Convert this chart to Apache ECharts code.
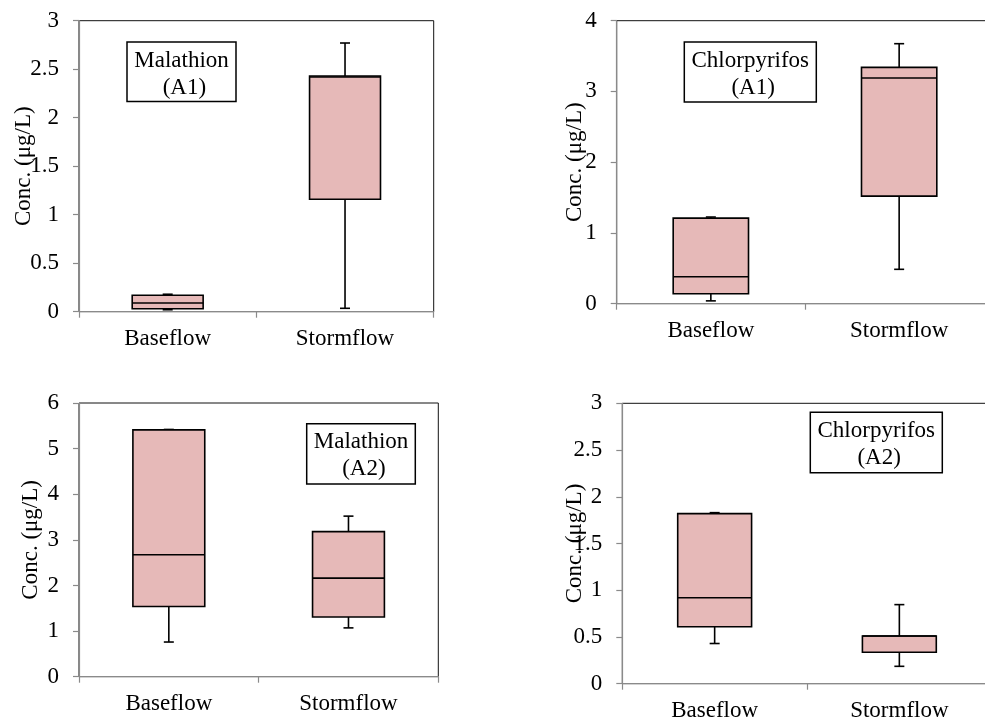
<!DOCTYPE html>
<html>
<head>
<meta charset="utf-8">
<title>Conc. (μg/L) – Baseflow vs Stormflow</title>
<script src="https://cdn.jsdelivr.net/npm/echarts@6/dist/echarts.min.js"></script>
<style>
  html, body { margin: 0; padding: 0; background: #fff; }
  #chart { width: 985px; height: 724px; }
</style>
</head>
<body>
<div id="chart"></div>
<script>
// Flow regimes on the x axis
const categories = ['Baseflow', 'Stormflow'];

// Box statistics per regime: [min, Q1, median, Q3, max] in µg/L
const malathionA1    = [[0.02, 0.03, 0.09, 0.17, 0.18], [0.035, 1.16, 2.42, 2.43, 2.77]];
const chlorpyrifosA1 = [[0.04, 0.14, 0.38, 1.21, 1.225], [0.486, 1.52, 3.19, 3.34, 3.675]];
const malathionA2    = [[0.76, 1.54, 2.675, 5.41, 5.42], [1.07, 1.31, 2.16, 3.18, 3.52]];
const chlorpyrifosA2 = [[0.43, 0.61, 0.92, 1.82, 1.83], [0.186, 0.336, 0.51, 0.51, 0.846]];

// Y axis ranges: [min, max, interval]
const yRangeMalA1 = [0, 3, 0.5];
const yRangeChlA1 = [0, 4, 1];
const yRangeMalA2 = [0, 6, 1];
const yRangeChlA2 = [0, 3, 0.5];

// Panel labels
const panelLabels = ['Malathion\n (A1)', 'Chlorpyrifos\n (A1)', 'Malathion\n (A2)', 'Chlorpyrifos\n (A2)'];
const yTitle = 'Conc. (μg/L)';

const FONT = '"Liberation Serif", "Times New Roman", serif';
const FONT_SIZE = 23;
const AXIS_GREY = '#8a8a8a';
const BOX_FILL = '#e6b9b8';

const panels = [
  { stats: malathionA1,    range: yRangeMalA1, grid: { left: 79,    top: 20.7,  width: 354.7, height: 291 },   nameGap: 44, box: [127, 42, 109, 59.5] },
  { stats: chlorpyrifosA1, range: yRangeChlA1, grid: { left: 616.7, top: 20.7,  width: 376.6, height: 283 },   nameGap: 30, box: [684.3, 42, 132, 60] },
  { stats: malathionA2,    range: yRangeMalA2, grid: { left: 79,    top: 403,   width: 359.3, height: 273.7 }, nameGap: 37, box: [306.7, 423.7, 108.6, 60.3] },
  { stats: chlorpyrifosA2, range: yRangeChlA2, grid: { left: 622.3, top: 403.3, width: 369.4, height: 280.4 }, nameGap: 36, box: [810.3, 412.3, 132, 60.4] }
];

// Excel-style box with short whisker caps
function renderBox(params, api) {
  const x = api.value(0);
  const lo = api.coord([x, api.value(1)]);
  const q1 = api.coord([x, api.value(2)]);
  const md = api.coord([x, api.value(3)]);
  const q3 = api.coord([x, api.value(4)]);
  const hi = api.coord([x, api.value(5)]);
  const bw = api.size([1, 0])[0] * 0.4;
  const cx = lo[0];
  const cap = 5;
  const line = { stroke: '#000', lineWidth: 1.6 };
  return {
    type: 'group',
    children: [
      { type: 'line', shape: { x1: cx, y1: q3[1], x2: cx, y2: hi[1] }, style: line },
      { type: 'line', shape: { x1: cx - cap, y1: hi[1], x2: cx + cap, y2: hi[1] }, style: line },
      { type: 'line', shape: { x1: cx, y1: q1[1], x2: cx, y2: lo[1] }, style: line },
      { type: 'line', shape: { x1: cx - cap, y1: lo[1], x2: cx + cap, y2: lo[1] }, style: line },
      { type: 'rect', shape: { x: cx - bw / 2, y: q3[1], width: bw, height: q1[1] - q3[1] },
        style: { fill: BOX_FILL, stroke: '#000', lineWidth: 1.6 } },
      { type: 'line', shape: { x1: cx - bw / 2, y1: md[1], x2: cx + bw / 2, y2: md[1] }, style: line }
    ]
  };
}

const option = {
  animation: false,
  backgroundColor: '#fff',
  grid: [],
  xAxis: [],
  yAxis: [],
  series: [],
  graphic: []
};

panels.forEach((p, i) => {
  option.grid.push(Object.assign({
    show: true,
    borderColor: '#111',
    borderWidth: 1,
    backgroundColor: 'transparent',
    outerBoundsMode: 'none',
    containLabel: false
  }, p.grid));

  option.xAxis.push({
    type: 'category',
    gridIndex: i,
    data: categories,
    boundaryGap: true,
    axisLine: { show: true, lineStyle: { color: AXIS_GREY, width: 1.2 } },
    axisTick: { show: true, length: 6, alignWithLabel: false, interval: 0, lineStyle: { color: AXIS_GREY, width: 1.2 } },
    axisLabel: { color: '#000', fontFamily: FONT, fontSize: FONT_SIZE, margin: 16, interval: 0 },
    splitLine: { show: false }
  });

  option.yAxis.push({
    type: 'value',
    gridIndex: i,
    min: p.range[0],
    max: p.range[1],
    interval: p.range[2],
    name: yTitle,
    nameLocation: 'middle',
    nameGap: p.nameGap,
    nameMoveOverlap: false,
    nameTextStyle: { color: '#000', fontFamily: FONT, fontSize: FONT_SIZE },
    axisLine: { show: true, lineStyle: { color: AXIS_GREY, width: 1.2 } },
    axisTick: { show: true, length: 6, lineStyle: { color: AXIS_GREY, width: 1.2 } },
    axisLabel: { color: '#000', fontFamily: FONT, fontSize: FONT_SIZE, margin: 20 },
    splitLine: { show: false }
  });

  option.series.push({
    type: 'custom',
    xAxisIndex: i,
    yAxisIndex: i,
    renderItem: renderBox,
    encode: { x: 0, y: [1, 2, 3, 4, 5] },
    data: p.stats.map((s, k) => [k].concat(s)),
    z: 5
  });

  const [bx, by, bwid, bh] = p.box;
  option.graphic.push({
    type: 'group',
    z: 100,
    children: [
      { type: 'rect', shape: { x: bx, y: by, width: bwid, height: bh },
        style: { fill: '#fff', stroke: '#000', lineWidth: 1.5 } },
      { type: 'text', x: bx + bwid / 2, y: by + 32,
        style: { text: panelLabels[i], fill: '#000', font: FONT_SIZE + 'px ' + FONT,
                 align: 'center', verticalAlign: 'middle', lineHeight: 27 } }
    ]
  });
});

const chart = echarts.init(document.getElementById('chart'), null, { renderer: 'canvas' });
chart.setOption(option);
</script>
</body>
</html>
